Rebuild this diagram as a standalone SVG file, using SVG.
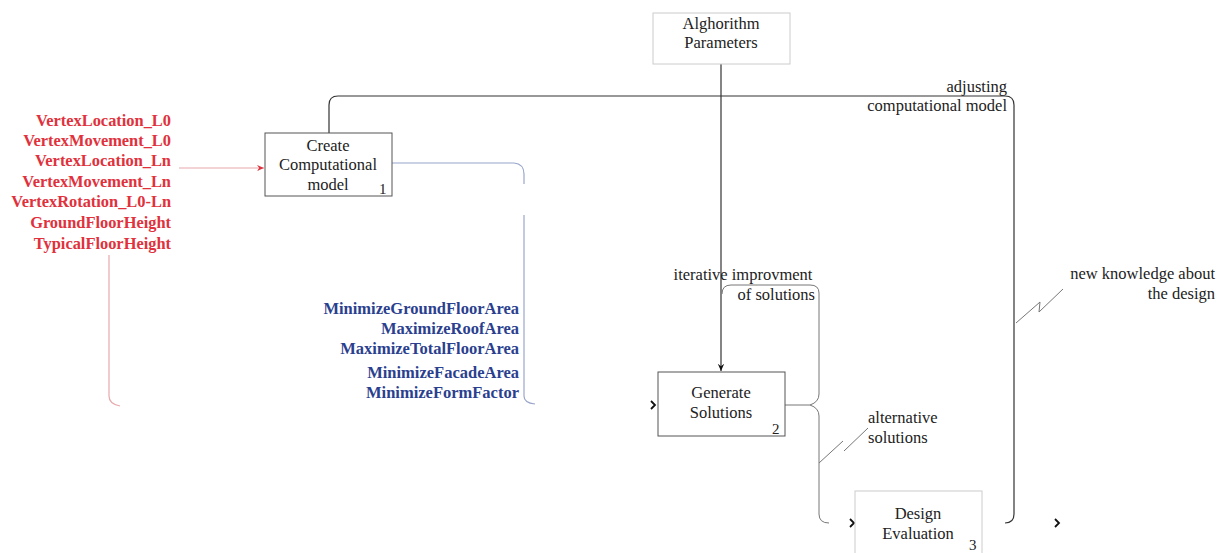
<svg xmlns="http://www.w3.org/2000/svg" width="1217" height="553" viewBox="0 0 1217 553">
  <style>
    .box { fill: #ffffff; stroke: #555555; stroke-width: 1; }
    .box-light { fill: #ffffff; stroke: #cccccc; stroke-width: 1; }
    .label { font-family: "Liberation Serif", "Times New Roman", serif; font-size: 16.5px; fill: #222222; }
    .num { font-family: "Liberation Serif", "Times New Roman", serif; font-size: 15px; fill: #222222; }
    .red { font-family: "Liberation Serif", "Times New Roman", serif; font-size: 16.4px; font-weight: bold; fill: #e0313c; }
    .blue { font-family: "Liberation Serif", "Times New Roman", serif; font-size: 16.5px; font-weight: bold; fill: #2b3f8f; }
    .line { fill: none; stroke: #333333; stroke-width: 1.2; }
    .line-thin { fill: none; stroke: #777777; stroke-width: 1; }
    .line-red { fill: none; stroke: #e8a8ac; stroke-width: 1.2; }
    .line-blue { fill: none; stroke: #9aa6cc; stroke-width: 1.2; }
    .head { fill: none; stroke: #111111; stroke-width: 1.8; }
  </style>
  <defs>
    <marker id="arrow-dark" viewBox="0 0 10 10" refX="9" refY="5" markerWidth="8" markerHeight="8" orient="auto" markerUnits="userSpaceOnUse">
      <path d="M0,1 L9,5 L0,9 L3,5 Z" fill="#111111"/>
    </marker>
    <marker id="arrow-red" viewBox="0 0 10 10" refX="9" refY="5" markerWidth="8" markerHeight="8" orient="auto" markerUnits="userSpaceOnUse">
      <path d="M0,1 L9,5 L0,9 L3,5 Z" fill="#e0313c"/>
    </marker>
  </defs>

  <!-- connectors -->
  <g id="connectors">
    <!-- control: algorithm parameters down to Generate Solutions -->
    <path class="line" d="M721,64 L721,371" marker-end="url(#arrow-dark)"/>
    <!-- feedback: adjusting computational model -->
    <path class="line" d="M329,133 L329,105 Q329,96 338,96 L1005,96 Q1014,96 1014,105 L1014,514 Q1014,523 1005,523"/>
    <!-- inputs into Create Computational model -->
    <path class="line-red" d="M179,168 L264,168" marker-end="url(#arrow-red)"/>
    <path class="line-red" d="M109,255 L109,396 Q109,404 120,406"/>
    <!-- objectives from Create Computational model -->
    <path class="line-blue" d="M392,163 L514,163 Q524,164 524,174 L524,184"/>
    <path class="line-blue" d="M524,215 L524,396 Q524,403 535,404"/>
    <!-- iterative improvement loop and alternative solutions -->
    <path class="line-thin" d="M785,405 L810,405"/>
    <path class="line-thin" d="M810,405 Q819,402 819,394 L819,293 Q819,285 810,285 L731,285 Q722,285 722,294"/>
    <path class="line-thin" d="M810,405 Q819,408 819,416 L819,514 Q819,523 829,523"/>
    <path class="line-thin" d="M819,463 L843,441"/>
    <path class="line-thin" d="M844,451 L868,428"/>
    <!-- squiggle for new knowledge -->
    <path class="line-thin" d="M1016,323 L1040,302 L1039,312 L1063,289"/>
    <!-- arrowheads of entry/exit points -->
    <path class="head" d="M651,401 L655,405 L651,409"/>
    <path class="head" d="M850,519 L854,523 L850,527"/>
    <path class="head" d="M1055,519 L1059,523 L1055,527"/>
  </g>

  <!-- inputs -->
  <g id="inputs">
    <text class="red" x="171" y="126" text-anchor="end">VertexLocation_L0</text>
    <text class="red" x="171" y="146" text-anchor="end">VertexMovement_L0</text>
    <text class="red" x="171" y="166" text-anchor="end">VertexLocation_Ln</text>
    <text class="red" x="171" y="187" text-anchor="end">VertexMovement_Ln</text>
    <text class="red" x="171" y="207" text-anchor="end">VertexRotation_L0-Ln</text>
    <text class="red" x="171" y="228" text-anchor="end">GroundFloorHeight</text>
    <text class="red" x="171" y="249" text-anchor="end">TypicalFloorHeight</text>
  </g>

  <!-- objectives -->
  <g id="objectives">
    <text class="blue" x="519" y="314" text-anchor="end">MinimizeGroundFloorArea</text>
    <text class="blue" x="519" y="334" text-anchor="end">MaximizeRoofArea</text>
    <text class="blue" x="519" y="354" text-anchor="end">MaximizeTotalFloorArea</text>
    <text class="blue" x="519" y="378" text-anchor="end">MinimizeFacadeArea</text>
    <text class="blue" x="519" y="398" text-anchor="end">MinimizeFormFactor</text>
  </g>

  <!-- connector labels -->
  <g id="connector-labels">
    <text class="label" x="1007" y="92" text-anchor="end">adjusting</text>
    <text class="label" x="1007" y="111" text-anchor="end">computational model</text>
    <text class="label" x="743" y="280" text-anchor="middle">iterative improvment</text>
    <text class="label" x="815" y="300" text-anchor="end">of solutions</text>
    <text class="label" x="868" y="423">alternative</text>
    <text class="label" x="868" y="443">solutions</text>
    <text class="label" x="1215" y="279" text-anchor="end">new knowledge about</text>
    <text class="label" x="1215" y="299" text-anchor="end">the design</text>
  </g>

  <!-- nodes -->
  <g id="node-parameters">
    <rect class="box-light" x="653" y="13" width="137" height="51"/>
    <text class="label" x="721" y="29" text-anchor="middle">Alghorithm</text>
    <text class="label" x="721" y="48" text-anchor="middle">Parameters</text>
  </g>

  <g id="node-create-model">
    <rect class="box" x="265" y="133" width="127" height="63"/>
    <text class="label" x="328" y="151" text-anchor="middle">Create</text>
    <text class="label" x="328" y="170" text-anchor="middle">Computational</text>
    <text class="label" x="328" y="190" text-anchor="middle">model</text>
    <text class="num" x="379" y="194">1</text>
  </g>

  <g id="node-generate">
    <rect class="box" x="658" y="372" width="127" height="64"/>
    <text class="label" x="721" y="398" text-anchor="middle">Generate</text>
    <text class="label" x="721" y="418" text-anchor="middle">Solutions</text>
    <text class="num" x="772" y="434">2</text>
  </g>

  <g id="node-evaluation">
    <rect class="box-light" x="855" y="491" width="127" height="70"/>
    <text class="label" x="918" y="519" text-anchor="middle">Design</text>
    <text class="label" x="918" y="539" text-anchor="middle">Evaluation</text>
    <text class="num" x="969" y="550" font-size="13px">3</text>
  </g>
</svg>
